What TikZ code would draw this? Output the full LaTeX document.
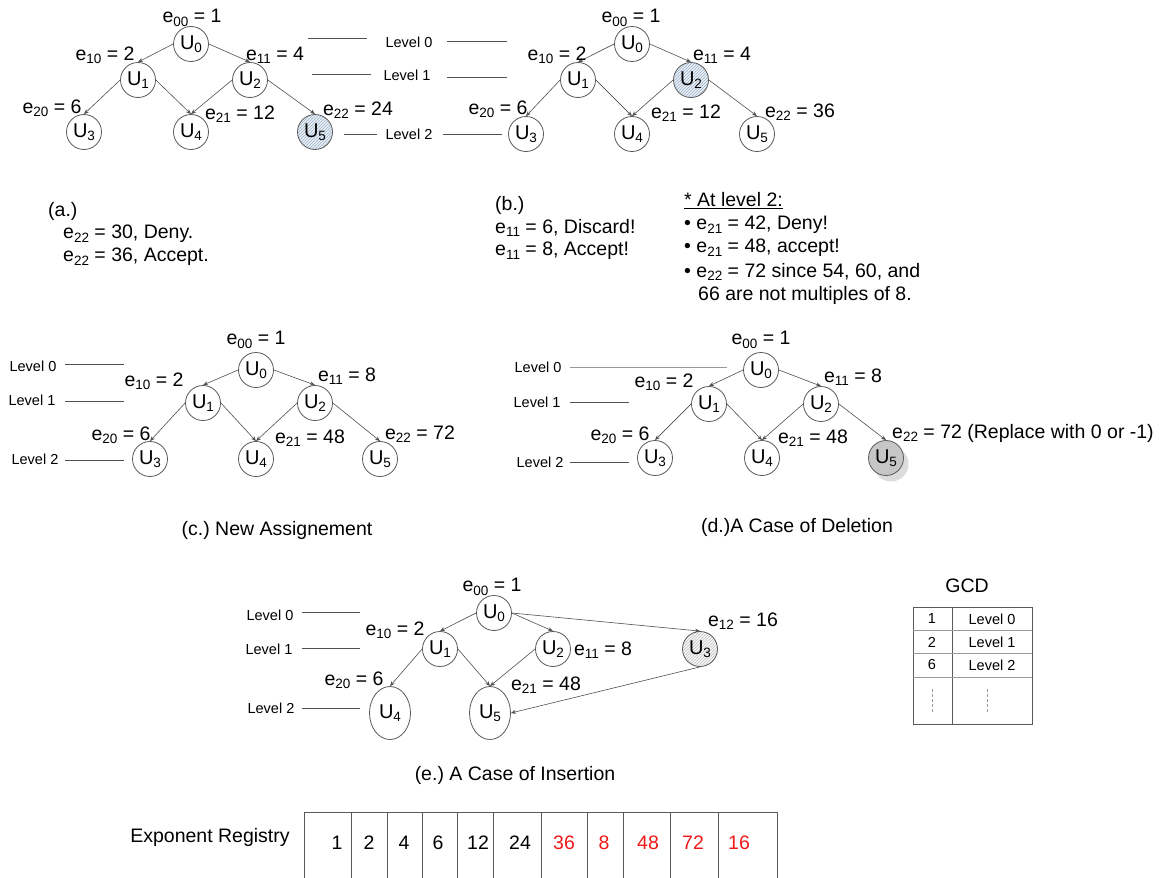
\documentclass[tikz,border=0pt]{standalone}
\usepackage{fontspec}
\setmainfont{Liberation Sans}
\usetikzlibrary{arrows.meta,patterns,shapes.geometric,shadows}

\definecolor{ringgray}{HTML}{5A5A5A}
\definecolor{linegray}{HTML}{505050}
\definecolor{guidegray}{HTML}{9A9A9A}
\definecolor{fillblue}{HTML}{EAF0F6}
\definecolor{lineblue}{HTML}{9DB2CA}
\definecolor{fillpale}{HTML}{F5F5F5}
\definecolor{linepale}{HTML}{C4C4C4}
\definecolor{delgray}{HTML}{C6C6C6}
\definecolor{shadegray}{HTML}{DCDCDC}
\definecolor{regred}{HTML}{F01818}

\newcommand{\ix}[1]{\raisebox{-0.32ex}{\fontsize{13.5}{14}\selectfont #1}}

\tikzset{
  unode/.style={circle,draw=ringgray,line width=0.8pt,minimum size=35pt,inner sep=0pt,font=\fontsize{20}{22}\selectfont},
  uoval/.style={ellipse,draw=ringgray,line width=0.8pt,minimum width=41pt,minimum height=53pt,inner sep=0pt,font=\fontsize{20}{22}\selectfont},
  bluehatch/.style={preaction={fill=fillblue},pattern=north east lines,pattern color=lineblue},
  palehatch/.style={preaction={fill=fillpale},pattern=north east lines,pattern color=linepale},
  deleted/.style={fill=delgray,drop shadow={shadow xshift=5pt,shadow yshift=-6pt,fill=shadegray,opacity=1}},
  edge/.style={draw=linegray,line width=0.6pt,-{Stealth[length=5pt,width=4pt]}},
  elabel/.style={inner sep=0pt,font=\fontsize{19.5}{22}\selectfont},
  lvltext/.style={inner sep=0pt,font=\fontsize{14.5}{16}\selectfont},
  guide/.style={draw=linegray,line width=0.6pt},
  figcap/.style={inner sep=0pt,font=\fontsize{19.5}{22}\selectfont},
  note/.style={inner sep=0pt,anchor=west,font=\fontsize{19.5}{22}\selectfont},
  cell/.style={draw=ringgray,line width=0.7pt},
}

\begin{document}
\begin{tikzpicture}[x=1pt,y=-1pt]
\useasboundingbox[fill=white] (0,0) rectangle (1173,878);

% (a)
\node[unode] (a0) at (191,44) {U\ix{0}};
\node[unode] (a1) at (138,80) {U\ix{1}};
\node[unode] (a2) at (250,80) {U\ix{2}};
\node[unode] (a3) at (84,132) {U\ix{3}};
\node[unode] (a4) at (191,132) {U\ix{4}};
\node[unode,bluehatch] (a5) at (315,132) {U\ix{5}};
\draw[edge] (a0.west) -- (a1.north);
\draw[edge] (a0.east) -- (a2.north);
\draw[edge] (a1.west) -- (a3.north);
\draw[edge] (a1.east) -- (a4.north);
\draw[edge] (a2.west) -- (a4.north);
\draw[edge] (a2.east) -- (a5.north);
\node[elabel] (a0l) at (192,18) {e\ix{00} = 1};
\node[elabel] (a1l) at (105,55) {e\ix{10} = 2};
\node[elabel] (a2l) at (275,55) {e\ix{11} = 4};
\node[elabel] (a3l) at (52,108) {e\ix{20} = 6};
\node[elabel] (a4l) at (240,114) {e\ix{21} = 12};
\node[elabel] (a5l) at (358,110) {e\ix{22} = 24};

% levels between (a) and (b)
\node[lvltext] (ab0) at (409,42) {Level 0};
\node[lvltext] (ab1) at (407,75) {Level 1};
\node[lvltext] (ab2) at (409,134) {Level 2};
\draw[guide] (308,38) -- (367,38);
\draw[guide] (447,41) -- (507,41);
\draw[guide] (312,74) -- (371,74);
\draw[guide] (447,77) -- (507,77);
\draw[guide] (344,134) -- (377,134);
\draw[guide] (443,134) -- (502,134);

% (b)
\node[unode] (b0) at (632,44) {U\ix{0}};
\node[unode] (b1) at (578,80) {U\ix{1}};
\node[unode,bluehatch] (b2) at (691,80) {U\ix{2}};
\node[unode] (b3) at (526,134) {U\ix{3}};
\node[unode] (b4) at (632,134) {U\ix{4}};
\node[unode] (b5) at (757,134) {U\ix{5}};
\draw[edge] (b0.west) -- (b1.north);
\draw[edge] (b0.east) -- (b2.north);
\draw[edge] (b1.west) -- (b3.north);
\draw[edge] (b1.east) -- (b4.north);
\draw[edge] (b2.west) -- (b4.north);
\draw[edge] (b2.east) -- (b5.north);
\node[elabel] (b0l) at (631,18) {e\ix{00} = 1};
\node[elabel] (b1l) at (557,55) {e\ix{10} = 2};
\node[elabel] (b2l) at (722,55) {e\ix{11} = 4};
\node[elabel] (b3l) at (498,109) {e\ix{20} = 6};
\node[elabel] (b4l) at (686,113) {e\ix{21} = 12};
\node[elabel] (b5l) at (800,112) {e\ix{22} = 36};

% notes
\node[note] (na) at (48,211) {(a.)};
\node[note] (na1) at (63,234) {e\ix{22} = 30, Deny.};
\node[note] (na2) at (63,257) {e\ix{22} = 36, Accept.};
\node[note] (nb) at (495,205) {(b.)};
\node[note] (nb1) at (495,228) {e\ix{11} = 6, Discard!};
\node[note] (nb2) at (495,251) {e\ix{11} = 8, Accept!};
\node[note] (nl) at (684,201) {\underline{* At level 2:}};
\node[note] (nl1) at (684,225) {\textbullet\ e\ix{21} = 42, Deny!};
\node[note] (nl2) at (684,248) {\textbullet\ e\ix{21} = 48, accept!};
\node[note] (nl3) at (684,272) {\textbullet\ e\ix{22} = 72 since 54, 60, and};
\node[note] (nl4) at (698,295) {66 are not multiples of 8.};

% (c)
\node[unode] (c0) at (256,370) {U\ix{0}};
\node[unode] (c1) at (203,403) {U\ix{1}};
\node[unode] (c2) at (315,403) {U\ix{2}};
\node[unode] (c3) at (150,459) {U\ix{3}};
\node[unode] (c4) at (256,459) {U\ix{4}};
\node[unode] (c5) at (380,459) {U\ix{5}};
\draw[edge] (c0.west) -- (c1.north);
\draw[edge] (c0.east) -- (c2.north);
\draw[edge] (c1.west) -- (c3.north);
\draw[edge] (c1.east) -- (c4.north);
\draw[edge] (c2.west) -- (c4.north);
\draw[edge] (c2.east) -- (c5.north);
\node[elabel] (c0l) at (256,340) {e\ix{00} = 1};
\node[elabel] (c1l) at (154,381) {e\ix{10} = 2};
\node[elabel] (c2l) at (347,376) {e\ix{11} = 8};
\node[elabel] (c3l) at (121,435) {e\ix{20} = 6};
\node[elabel] (c4l) at (310,438) {e\ix{21} = 48};
\node[elabel] (c5l) at (420,434) {e\ix{22} = 72};
\node[lvltext] (cv0) at (33,366) {Level 0};
\node[lvltext] (cv1) at (32,400) {Level 1};
\node[lvltext] (cv2) at (35,459) {Level 2};
\draw[guide] (65,364) -- (124,364);
\draw[guide] (65,401) -- (124,401);
\draw[guide] (65,460) -- (124,460);
\node[figcap] (ccap) at (277,530) {(c.)\ New Assignement};

% (d)
\node[unode] (d0) at (761,370) {U\ix{0}};
\node[unode] (d1) at (709,404) {U\ix{1}};
\node[unode] (d2) at (821,404) {U\ix{2}};
\node[unode] (d3) at (655,458) {U\ix{3}};
\node[unode] (d4) at (762,458) {U\ix{4}};
\node[unode,deleted] (d5) at (886,458) {U\ix{5}};
\draw[edge] (d0.west) -- (d1.north);
\draw[edge] (d0.east) -- (d2.north);
\draw[edge] (d1.west) -- (d3.north);
\draw[edge] (d1.east) -- (d4.north);
\draw[edge] (d2.west) -- (d4.north);
\draw[edge] (d2.east) -- (d5.north);
\node[elabel] (d0l) at (761,340) {e\ix{00} = 1};
\node[elabel] (d1l) at (664,382) {e\ix{10} = 2};
\node[elabel] (d2l) at (853,377) {e\ix{11} = 8};
\node[elabel] (d3l) at (620,435) {e\ix{20} = 6};
\node[elabel] (d4l) at (813,438) {e\ix{21} = 48};
\node[elabel,anchor=west] (d5l) at (892,433) {e\ix{22} = 72 (Replace with 0 or -1)};
\node[lvltext] (dv0) at (538,367) {Level 0};
\node[lvltext] (dv1) at (537,402) {Level 1};
\node[lvltext] (dv2) at (540,462) {Level 2};
\draw[guide,draw=guidegray,line width=1pt] (570,367) -- (727,367);
\draw[guide] (570,402) -- (629,402);
\draw[guide] (570,462) -- (629,462);
\node[figcap] (dcap) at (797,527) {(d.)A Case of Deletion};

% (e)
\node[unode] (e0) at (494,613) {U\ix{0}};
\node[unode] (e1) at (440,649) {U\ix{1}};
\node[unode] (e2) at (553,649) {U\ix{2}};
\node[unode,palehatch] (e3) at (700,649) {U\ix{3}};
\node[uoval] (e4) at (390,713) {U\ix{4}};
\node[uoval] (e5) at (490,713) {U\ix{5}};
\draw[edge] (e0.west) -- (e1.north);
\draw[edge] (e0.east) -- (e2.north);
\draw[edge] (e0.east) -- (e3.north);
\draw[edge] (e1.west) -- (e4.north);
\draw[edge] (e1.east) -- (e5.north);
\draw[edge] (e2.west) -- (e5.north);
\draw[edge] (e3.south) -- (e5.east);
\node[elabel] (e0l) at (492,587) {e\ix{00} = 1};
\node[elabel] (e1l) at (395,630) {e\ix{10} = 2};
\node[elabel] (e2l) at (603,650) {e\ix{11} = 8};
\node[elabel] (e3l) at (743,621) {e\ix{12} = 16};
\node[elabel] (e4l) at (354,680) {e\ix{20} = 6};
\node[elabel] (e5l) at (546,685) {e\ix{21} = 48};
\node[lvltext] (ev0) at (270,615) {Level 0};
\node[lvltext] (ev1) at (269,649) {Level 1};
\node[lvltext] (ev2) at (271,708) {Level 2};
\draw[guide] (302,612) -- (360,612);
\draw[guide] (302,648) -- (360,648);
\draw[guide] (302,708) -- (360,708);
\node[figcap] (ecap) at (515,775) {(e.)\ A Case of Insertion};

% GCD table
\node[figcap] (gcd) at (967,586) {GCD};
\draw[cell] (913,607) rectangle (1032,724);
\draw[cell] (952,607) -- (952,724);
\draw[cell,draw=guidegray] (913,630) -- (1032,630);
\draw[cell,draw=guidegray] (913,653) -- (1032,653);
\draw[cell,draw=guidegray] (913,677) -- (1032,677);
\draw[guidegray,dashed,dash pattern=on 3pt off 2pt] (932,689) -- (932,713);
\draw[guidegray,dashed,dash pattern=on 3pt off 2pt] (987,689) -- (987,713);
\node[lvltext] (g1) at (932,619) {1};
\node[lvltext] (g1v) at (992,619) {Level 0};
\node[lvltext] (g2) at (932,642) {2};
\node[lvltext] (g2v) at (992,642) {Level 1};
\node[lvltext] (g3) at (932,665) {6};
\node[lvltext] (g3v) at (992,665) {Level 2};

% exponent registry
\node[elabel] (reg) at (210,837) {Exponent Registry};
\draw[cell] (304,880) -- (304,812) -- (777,812) -- (777,880);
\draw[cell] (351,812) -- (351,880);
\draw[cell] (387,812) -- (387,880);
\draw[cell] (422,812) -- (422,880);
\draw[cell] (457,812) -- (457,880);
\draw[cell] (493,812) -- (493,880);
\draw[cell] (541,812) -- (541,880);
\draw[cell] (587,812) -- (587,880);
\draw[cell] (623,812) -- (623,880);
\draw[cell] (670,812) -- (670,880);
\draw[cell] (718,812) -- (718,880);
\node[elabel] (r1) at (337,843) {1};
\node[elabel] (r2) at (369,843) {2};
\node[elabel] (r3) at (404,843) {4};
\node[elabel] (r4) at (438,843) {6};
\node[elabel] (r5) at (478,843) {12};
\node[elabel] (r6) at (520,843) {24};
\node[elabel,text=regred] (r7) at (564,843) {36};
\node[elabel,text=regred] (r8) at (604,843) {8};
\node[elabel,text=regred] (r9) at (648,843) {48};
\node[elabel,text=regred] (r10) at (693,843) {72};
\node[elabel,text=regred] (r11) at (739,843) {16};
\end{tikzpicture}
\end{document}
